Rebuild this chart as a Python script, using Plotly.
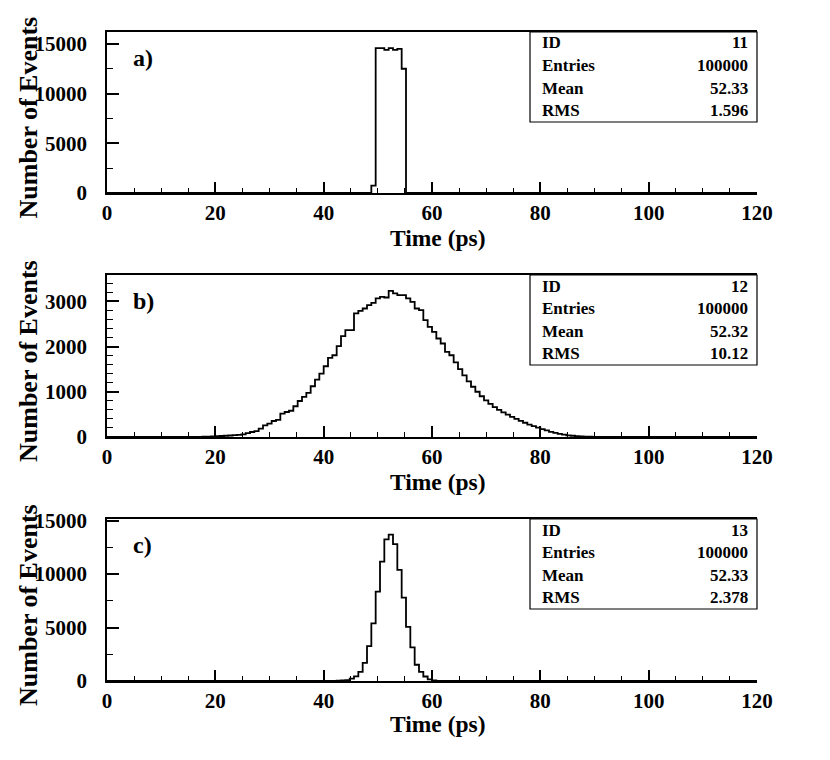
import plotly.graph_objects as go

BIN_WIDTH = 0.8
X_RANGE = [0, 120]

# histogram contents (0.8 ps bins), first bin index for each
first_bin_a = 61
counts_a = [735, 14570, 14570, 14400, 14570, 14400, 14500, 12500]

first_bin_b = 22
counts_b = [5, 8, 12, 18, 22, 28, 33, 40, 48, 60, 85, 110, 130, 185, 259, 296,
            354, 380, 517, 553, 580, 679, 796, 885, 973, 1122, 1270, 1402, 1564,
            1748, 1807, 2007, 2228, 2360, 2360, 2730, 2788, 2840, 2914, 2965,
            3062, 3097, 3083, 3230, 3172, 3135, 3135, 3062, 2987, 2840, 2803,
            2582, 2434, 2323, 2177, 2066, 1881, 1807, 1650, 1500, 1360, 1230,
            1110, 1000, 900, 810, 730, 660, 600, 545, 495, 445, 400, 355, 315,
            275, 240, 205, 175, 145, 115, 90, 70, 52, 38, 28, 18, 12, 8, 5, 3]

first_bin_c = 53
counts_c = [30, 50, 90, 225, 440, 850, 1690, 3260, 5390, 8360, 11170, 13250,
            13680, 12800, 10390, 7800, 5070, 3150, 1520, 850, 420, 160, 60]

panel_labels = ["a)", "b)", "c)"]
hist_ids = [11, 12, 13]
entries = [100000, 100000, 100000]
means = ["52.33", "52.32", "52.33"]
rms = ["1.596", "10.12", "2.378"]
y_max = [16200, 3580, 15150]
y_dtick = [5000, 1000, 5000]
y_minor = [2500, 200, 2500]

W, H = 830, 760
OFF = 8  # page body margin
FONT = "Liberation Serif"
# plot area in page pixels: left, right, (top, bottom) per panel
X0, X1 = 107, 757
panels_px = [(32, 193), (275, 437), (519, 681)]
title_offset = [45, 45, 43]


def px_x(x):
    return (x - OFF) / W


def px_y(y):
    return 1 - (y - OFF) / H


fig = go.Figure()

hists = [(first_bin_a, counts_a), (first_bin_b, counts_b), (first_bin_c, counts_c)]
for i, (first, counts) in enumerate(hists):
    edges = [(first + j) * BIN_WIDTH for j in range(len(counts) + 1)]
    xs = [X_RANGE[0]] + edges + [X_RANGE[1]]
    ys = [0] + counts + [0, 0]
    n = "" if i == 0 else str(i + 1)
    fig.add_trace(go.Scatter(x=xs, y=ys, mode="lines", line_shape="hv",
                             line=dict(color="black", width=1.8),
                             xaxis="x" + n, yaxis="y" + n, showlegend=False,
                             hoverinfo="skip"))

tickfont = dict(family=FONT, size=21, color="black", weight="bold")
layout = dict(template="none", width=W, height=H,
              margin=dict(l=0, r=0, t=0, b=0, pad=0),
              paper_bgcolor="white", plot_bgcolor="white", showlegend=False)

shapes = []
annotations = []
for i, (top, bot) in enumerate(panels_px):
    n = "" if i == 0 else str(i + 1)
    layout["xaxis" + n] = dict(
        domain=[px_x(X0), px_x(X1)], anchor="y" + n, range=X_RANGE, dtick=20,
        tick0=0, automargin=False, showgrid=False, zeroline=False,
        showline=True, mirror=True, linecolor="black", linewidth=1.8,
        ticks="inside", ticklen=11, tickwidth=1.5, tickcolor="black",
        tickfont=tickfont, ticklabelstandoff=0,
        minor=dict(ticks="inside", ticklen=5, dtick=5, tickwidth=1.3,
                   tickcolor="black", showgrid=False))
    layout["yaxis" + n] = dict(
        domain=[px_y(bot), px_y(top)], anchor="x" + n, range=[0, y_max[i]],
        dtick=y_dtick[i], tick0=0, tickformat="d", automargin=False,
        showgrid=False, zeroline=False, showline=True, mirror=False,
        linecolor="black", linewidth=1.8, ticks="inside", ticklen=12,
        tickwidth=1.5, tickcolor="black", tickfont=tickfont,
        ticklabelstandoff=14,
        minor=dict(ticks="inside", ticklen=6, dtick=y_minor[i], tickwidth=1.3,
                   tickcolor="black", showgrid=False))

    # stats box
    bx0, bx1 = 530, X1
    by0, by1 = top, top + 90
    shapes.append(dict(type="rect", xref="paper", yref="paper",
                       x0=px_x(bx0), x1=px_x(bx1), y0=px_y(by1), y1=px_y(by0),
                       line=dict(color="black", width=1.2), fillcolor="white"))
    rows = [("ID", str(hist_ids[i])), ("Entries", str(entries[i])),
            ("Mean", means[i]), ("RMS", rms[i])]
    for r, (lab, val) in enumerate(rows):
        yy = px_y(top + 11 + 22.5 * r)
        annotations.append(dict(x=px_x(bx0 + 10), y=yy, xref="paper",
                                yref="paper", text=lab, showarrow=False,
                                xanchor="left", yanchor="middle",
                                font=dict(family=FONT, size=17, color="black",
                                          weight="bold")))
        annotations.append(dict(x=px_x(bx1 - 7), y=yy, xref="paper",
                                yref="paper", text=val, showarrow=False,
                                xanchor="right", yanchor="middle",
                                font=dict(family=FONT, size=17, color="black",
                                          weight="bold")))

    # panel label
    annotations.append(dict(x=px_x(131), y=px_y(top + 26), xref="paper",
                            yref="paper", text=panel_labels[i], showarrow=False,
                            xanchor="left", yanchor="middle",
                            font=dict(family=FONT, size=24, color="black",
                                      weight="bold")))
    # y title
    annotations.append(dict(x=px_x(28), y=px_y((top + bot) / 2 + 5),
                            xref="paper", yref="paper", text="Number of Events",
                            showarrow=False, textangle=-90, xanchor="center",
                            yanchor="middle",
                            font=dict(family=FONT, size=26, color="black",
                                      weight="bold")))
    # x title
    annotations.append(dict(x=px_x(438), y=px_y(bot + title_offset[i]),
                            xref="paper", yref="paper", text="Time (ps)",
                            showarrow=False, xanchor="center", yanchor="middle",
                            font=dict(family=FONT, size=23.5, color="black",
                                      weight="bold")))

layout["shapes"] = shapes
layout["annotations"] = annotations
fig.update_layout(**layout)

fig.write_html("out.html")
